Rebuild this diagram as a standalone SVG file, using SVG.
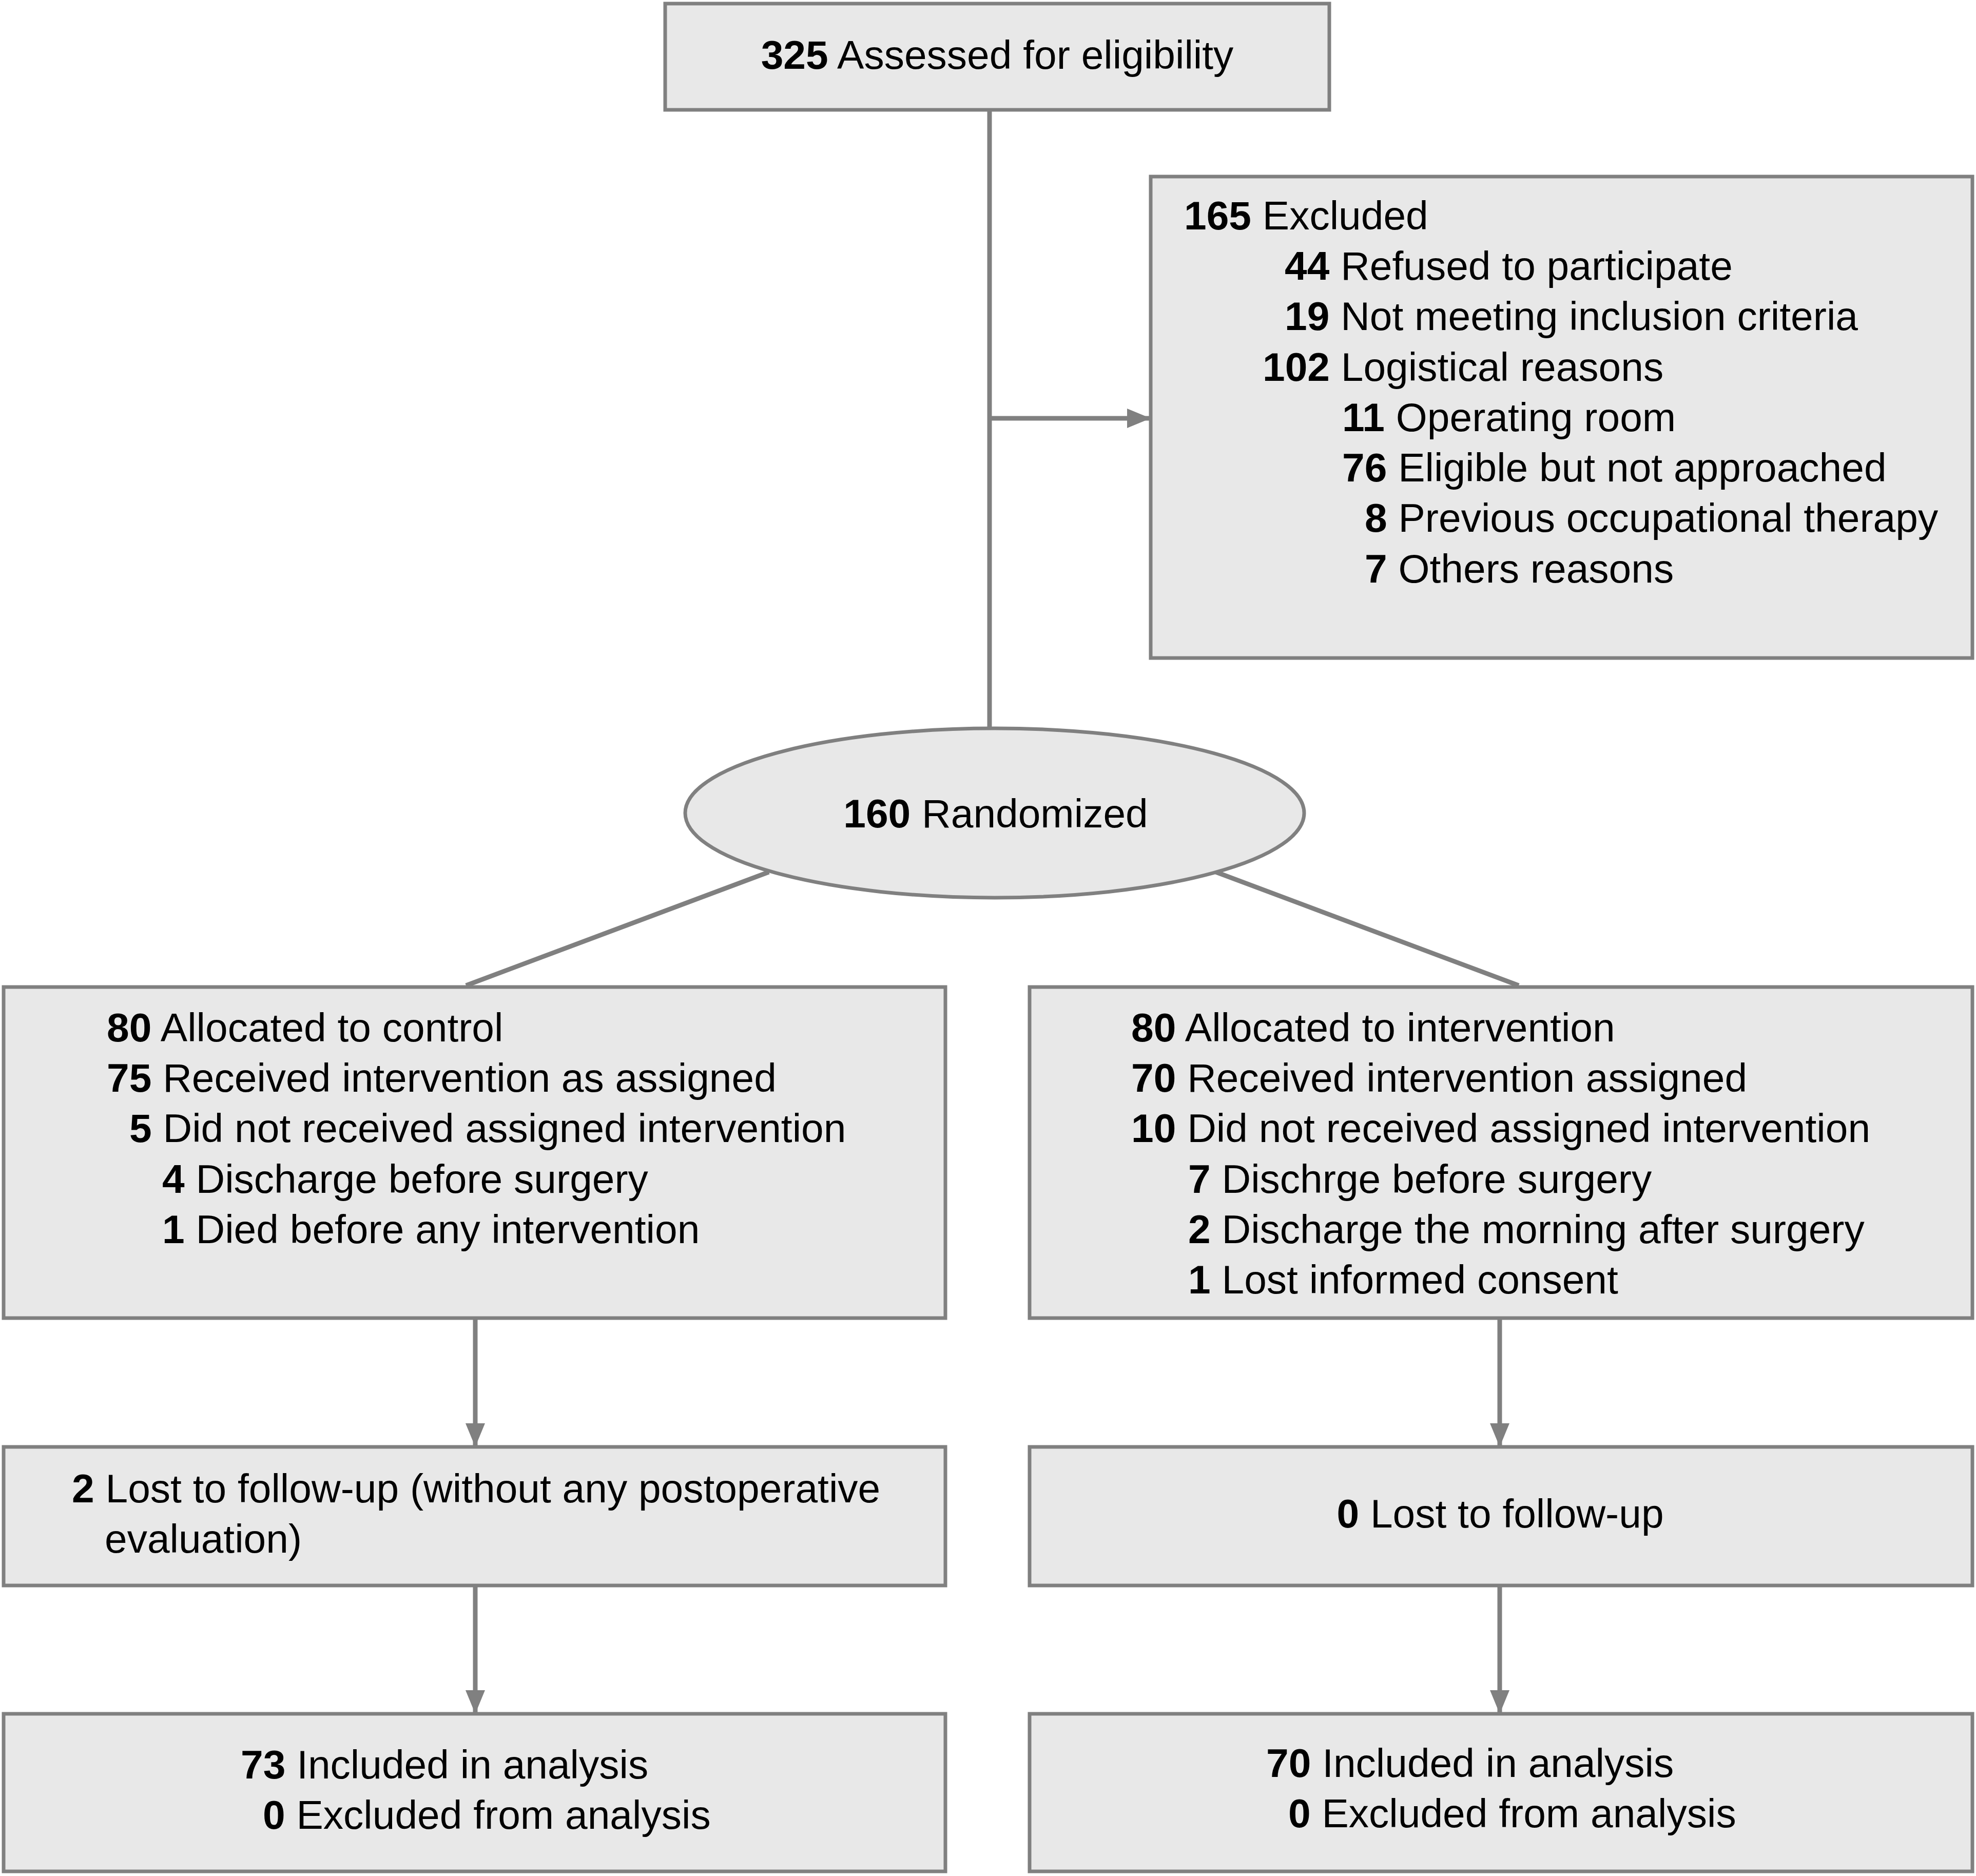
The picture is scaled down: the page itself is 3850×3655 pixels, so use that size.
<svg xmlns="http://www.w3.org/2000/svg" width="3850" height="3655" viewBox="0 0 3850 3655">
<style>
.box{fill:#e8e8e8;stroke:#808080;stroke-width:7}
.t{font-family:"Liberation Sans",Arial,Helvetica,sans-serif;font-size:78.5px;fill:#000}
.b{font-weight:bold}
.c{text-anchor:middle}
.ln{stroke:#808080;stroke-width:9;fill:none}
</style>
<defs>
<marker id="ah" markerUnits="userSpaceOnUse" markerWidth="46" markerHeight="38" refX="44" refY="19" orient="auto">
<path d="M0,0 L46,19 L0,38 Z" fill="#808080"/>
</marker>
</defs>
<rect width="3850" height="3655" fill="#ffffff"/>
<g id="connectors">
<line class="ln" x1="1928" y1="214" x2="1928" y2="1419"/>
<line class="ln" x1="1928" y1="815" x2="2240" y2="815" marker-end="url(#ah)"/>
<line class="ln" x1="1498" y1="1699" x2="908" y2="1920"/>
<line class="ln" x1="2369" y1="1699" x2="2959" y2="1920"/>
<line class="ln" x1="926" y1="2568" x2="926" y2="2817" marker-end="url(#ah)"/>
<line class="ln" x1="2922" y1="2568" x2="2922" y2="2817" marker-end="url(#ah)"/>
<line class="ln" x1="926" y1="3089" x2="926" y2="3337" marker-end="url(#ah)"/>
<line class="ln" x1="2922" y1="3089" x2="2922" y2="3337" marker-end="url(#ah)"/>
</g>
<g id="assessed">
<rect class="box" x="1296" y="7" width="1294" height="207"/>
<text class="t c" x="1943" y="134"><tspan class="b">325</tspan> Assessed for eligibility</text>
</g>
<g id="excluded">
<rect class="box" x="2242" y="344" width="1601" height="938"/>
<text class="t" x="2307" y="447"><tspan class="b">165</tspan> Excluded</text>
<text class="t" x="2503" y="545"><tspan class="b">44</tspan> Refused to participate</text>
<text class="t" x="2503" y="643"><tspan class="b">19</tspan> Not meeting inclusion criteria</text>
<text class="t" x="2460" y="742"><tspan class="b">102</tspan> Logistical reasons</text>
<text class="t" x="2615" y="840"><tspan class="b">11</tspan> Operating room</text>
<text class="t" x="2615" y="938"><tspan class="b">76</tspan> Eligible but not approached</text>
<text class="t" x="2659" y="1036"><tspan class="b">8</tspan> Previous occupational therapy</text>
<text class="t" x="2659" y="1135"><tspan class="b">7</tspan> Others reasons</text>
</g>
<g id="randomized">
<ellipse class="box" cx="1938" cy="1584" rx="603" ry="165"/>
<text class="t c" x="1940" y="1612"><tspan class="b">160</tspan> Randomized</text>
</g>
<g id="control">
<rect class="box" x="7" y="1923" width="1835" height="645"/>
<text class="t" x="208" y="2029"><tspan class="b">80</tspan> Allocated to control</text>
<text class="t" x="208" y="2127"><tspan class="b">75</tspan> Received intervention as assigned</text>
<text class="t" x="252" y="2225"><tspan class="b">5</tspan> Did not received assigned intervention</text>
<text class="t" x="316" y="2324"><tspan class="b">4</tspan> Discharge before surgery</text>
<text class="t" x="316" y="2422"><tspan class="b">1</tspan> Died before any intervention</text>
</g>
<g id="intervention">
<rect class="box" x="2006" y="1923" width="1837" height="645"/>
<text class="t" x="2204" y="2029"><tspan class="b">80</tspan> Allocated to intervention</text>
<text class="t" x="2204" y="2127"><tspan class="b">70</tspan> Received intervention assigned</text>
<text class="t" x="2204" y="2225"><tspan class="b">10</tspan> Did not received assigned intervention</text>
<text class="t" x="2315" y="2324"><tspan class="b">7</tspan> Dischrge before surgery</text>
<text class="t" x="2315" y="2422"><tspan class="b">2</tspan> Discharge the morning after surgery</text>
<text class="t" x="2315" y="2520"><tspan class="b">1</tspan> Lost informed consent</text>
</g>
<g id="lost-control">
<rect class="box" x="7" y="2819" width="1835" height="270"/>
<text class="t" x="140" y="2927"><tspan class="b">2</tspan> Lost to follow-up (without any postoperative</text>
<text class="t" x="204" y="3025">evaluation)</text>
</g>
<g id="lost-intervention">
<rect class="box" x="2006" y="2819" width="1837" height="270"/>
<text class="t c" x="2923" y="2976"><tspan class="b">0</tspan> Lost to follow-up</text>
</g>
<g id="analysis-control">
<rect class="box" x="7" y="3339" width="1835" height="307"/>
<text class="t" x="469" y="3465"><tspan class="b">73</tspan> Included in analysis</text>
<text class="t" x="512" y="3563"><tspan class="b">0</tspan> Excluded from analysis</text>
</g>
<g id="analysis-intervention">
<rect class="box" x="2006" y="3339" width="1837" height="307"/>
<text class="t" x="2467" y="3462"><tspan class="b">70</tspan> Included in analysis</text>
<text class="t" x="2510" y="3560"><tspan class="b">0</tspan> Excluded from analysis</text>
</g>
</svg>
